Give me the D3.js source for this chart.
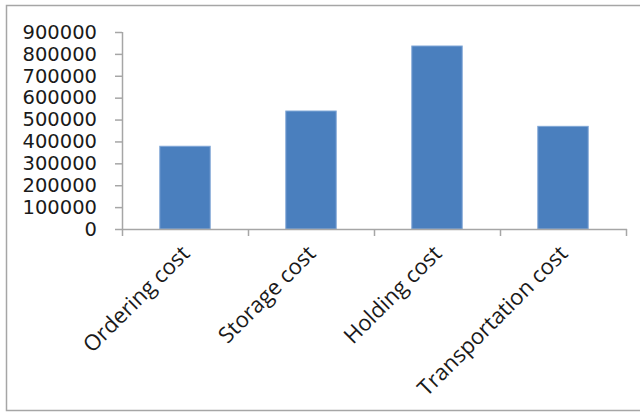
<!DOCTYPE html>
<html>
<head>
<meta charset="utf-8">
<script src="https://cdn.jsdelivr.net/npm/d3@7"></script>
<style>
  body { margin: 0; background: #fff; }
  .y-tick text { font-family: "DejaVu Sans", sans-serif; font-size: 19.5px; fill: #1a1a1a; }
  .x-label { font-family: "Open Sans", sans-serif; font-size: 22px; fill: #1a1a1a; }
</style>
</head>
<body>
<div id="chart-container"></div>
<script>
document.addEventListener("DOMContentLoaded", function () {
    const width = 640, height = 412;

    // data
    const categories = ["Ordering cost", "Storage cost", "Holding cost", "Transportation cost"];
    const costValues = [378000, 539000, 836000, 469000];
    const yTicks = [0, 100000, 200000, 300000, 400000, 500000, 600000, 700000, 800000, 900000];

    const plot = { left: 122, right: 626, top: 32, bottom: 229 };
    const axisColor = "#a6a6a6";

    const svg = d3.select("#chart-container")
        .append("svg")
        .attr("width", width)
        .attr("height", height);

    // outer chart frame (right edge is cut off in the original)
    svg.append("path")
        .attr("d", `M${width + 2},5.5 H6.5 V410.5 H${width + 2}`)
        .attr("fill", "none")
        .attr("stroke", "#a6a6a6")
        .attr("stroke-width", 1.5);

    const x = d3.scaleBand()
        .domain(categories)
        .range([plot.left, plot.right])
        .paddingInner(0.6)
        .paddingOuter(0.3);

    const y = d3.scaleLinear()
        .domain([0, 900000])
        .range([plot.bottom, plot.top]);

    // y axis
    const yAxis = svg.append("g")
        .attr("class", "y-tick")
        .attr("transform", `translate(${plot.left},0)`)
        .call(d3.axisLeft(y).tickValues(yTicks).tickFormat(d3.format("d")).tickSize(7).tickPadding(18));
    yAxis.select(".domain").attr("stroke", axisColor).attr("stroke-width", 1.5)
        .attr("d", `M0.5,${plot.top}V${plot.bottom + 7}`);
    yAxis.selectAll(".tick line").attr("stroke", axisColor).attr("stroke-width", 1.5);

    // bars
    svg.selectAll(".bar")
        .data(costValues)
        .enter()
        .append("rect")
        .attr("class", "bar")
        .attr("x", (d, i) => x(categories[i]))
        .attr("y", d => y(d))
        .attr("width", x.bandwidth())
        .attr("height", d => y(0) - y(d))
        .attr("fill", "#4a7fbe")
        .attr("stroke", "#7fa6d6")
        .attr("stroke-width", 1);

    // x axis line with tick marks at band boundaries
    const xAxis = svg.append("g").attr("transform", `translate(0,${plot.bottom})`);
    xAxis.append("line")
        .attr("x1", plot.left).attr("x2", plot.right + 1)
        .attr("y1", 0.5).attr("y2", 0.5)
        .attr("stroke", axisColor).attr("stroke-width", 1.5);
    const boundaries = categories.map(c => x(c) - x.step() * x.paddingOuter() + x.step());
    xAxis.selectAll(".xtick")
        .data(boundaries)
        .enter()
        .append("line")
        .attr("x1", d => d + 0.5).attr("x2", d => d + 0.5)
        .attr("y1", 0).attr("y2", 7)
        .attr("stroke", axisColor).attr("stroke-width", 1.5);

    // rotated category labels
    svg.selectAll(".x-label")
        .data(categories)
        .enter()
        .append("text")
        .attr("class", "x-label")
        .attr("text-anchor", "end")
        .attr("transform", d => `translate(${x(d) + x.bandwidth() / 2 + 6},${plot.bottom + 26}) rotate(-45)`)
        .text(d => d);
});
</script>
</body>
</html>
